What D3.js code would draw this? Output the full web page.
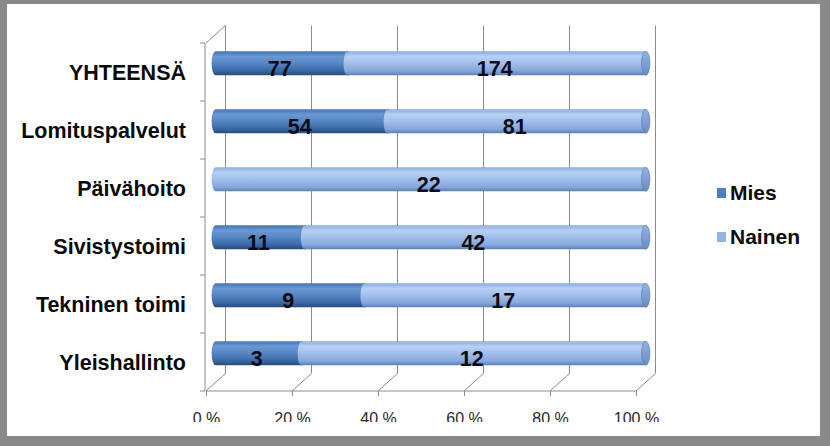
<!DOCTYPE html>
<html><head><meta charset="utf-8">
<script src="https://cdn.jsdelivr.net/npm/d3@7/dist/d3.min.js"></script>
<style>body{margin:0;padding:0;background:#fff}svg{display:block}</style>
</head><body>
<svg id="c" width="830" height="446"></svg>
<script>
const categories = ["YHTEENSÄ","Lomituspalvelut","Päivähoito","Sivistystoimi","Tekninen toimi","Yleishallinto"];
const mies   = [77, 54, 0, 11, 9, 3];
const nainen = [174, 81, 22, 42, 17, 12];
const seriesNames = ["Mies","Nainen"];
const xTicks = [0, 0.2, 0.4, 0.6, 0.8, 1];

const svg = d3.select("#c");
const font = "'Liberation Sans', Arial, sans-serif";

// frame
svg.append("rect").attr("width",830).attr("height",446).attr("fill","#8a8a8a");
svg.append("rect").attr("x",7).attr("y",4).attr("width",813).attr("height",432).attr("fill","#fff");

// geometry
const x = d3.scaleLinear().domain([0,1]).range([206,636]);
const y = d3.scaleBand().domain(categories).range([43,391]);
const dx = 19.5, dy = -17.5;
const floorY = y.range()[1];
const topY = y.range()[0];
const grid = "#8c8c8c";

const defs = svg.append("defs");
function grad(id, stops){
  const g = defs.append("linearGradient").attr("id",id).attr("x1",0).attr("y1",0).attr("x2",0).attr("y2",1);
  stops.forEach(s=>g.append("stop").attr("offset",s[0]).attr("stop-color",s[1]));
}
grad("gMies",[[0,"#4674b2"],[0.22,"#6a98d3"],[0.5,"#5686c5"],[0.82,"#3b68a4"],[1,"#264a7a"]]);
grad("gNainen",[[0,"#8cacde"],[0.22,"#b6d0f4"],[0.5,"#a2bfec"],[0.82,"#85a7db"],[1,"#5d80b6"]]);
grad("gCapM",[[0,"#5a86c2"],[1,"#34598c"]]);
grad("gCapN",[[0,"#95b3e2"],[1,"#6a8cc2"]]);
defs.append("clipPath").attr("id","tickClip").append("rect").attr("x",-80).attr("y",-10).attr("width",160).attr("height",41);

const g = svg.append("g");

// back wall gridlines
g.selectAll("line.back").data(xTicks).join("line")
  .attr("x1",d=>x(d)+dx).attr("x2",d=>x(d)+dx)
  .attr("y1",topY+dy).attr("y2",floorY+dy)
  .attr("stroke",grid).attr("stroke-width",1);
// floor diagonals
g.selectAll("line.floor").data(xTicks).join("line")
  .attr("x1",d=>x(d)).attr("x2",d=>x(d)+dx)
  .attr("y1",floorY).attr("y2",floorY+dy)
  .attr("stroke",grid).attr("stroke-width",1);
// left wall edge
g.append("line").attr("x1",x(0)).attr("x2",x(0)+dx).attr("y1",topY).attr("y2",topY+dy).attr("stroke",grid);
g.append("line").attr("x1",x(0)-1).attr("x2",x(0)-1).attr("y1",topY).attr("y2",floorY).attr("stroke",grid);
// category boundary ticks
const bounds = categories.map(c=>y(c)).concat([floorY]);
g.selectAll("line.yt").data(bounds).join("line")
  .attr("x1",x(0)-6).attr("x2",x(0)-1).attr("y1",d=>d).attr("y2",d=>d).attr("stroke",grid);

// bottom axis
const xAxis = d3.axisBottom(x).tickValues(xTicks).tickSize(5).tickPadding(14)
  .tickFormat(d=>Math.round(d*100)+" %");
const ax = svg.append("g").attr("transform",`translate(0,${floorY})`).call(xAxis);
ax.select(".domain").attr("stroke",grid).attr("d",`M${x(0)},0H${x(1)}`);
ax.selectAll(".tick line").attr("stroke",grid);
ax.selectAll(".tick text").attr("font-family",font).attr("font-size","16px").attr("fill","#2a2a2a")
  .attr("dy",null).attr("y",33).attr("clip-path","url(#tickClip)");

// category labels
const yAxis = d3.axisLeft(y).tickSize(0).tickPadding(0);
const ay = svg.append("g").attr("transform","translate(186,0)").call(yAxis);
ay.select(".domain").remove();
ay.selectAll(".tick text").attr("font-family",font).attr("font-size","21.5px").attr("font-weight","bold")
  .attr("fill","#0a0a0a").attr("dy",null).attr("y",8).attr("x",0);

// bars
const rows = categories.map((c,i)=>({c, m:mies[i], n:nainen[i], t:mies[i]+nainen[i]}));
const barH = 24, rx = 4.2;
const bx = v => x(v)+dx/2;
function segPath(x0,x1,cy){
  const t=cy-barH/2, b=cy+barH/2;
  return `M${x0},${t}L${x1},${t}L${x1},${b}L${x0},${b}A${rx},${barH/2} 0 0 1 ${x0},${t}Z`;
}
const bars = svg.append("g");
rows.forEach(r=>{
  const cy = y(r.c)+y.bandwidth()/2 + dy/2;
  const segs = [{v0:0,v1:r.m/r.t,fill:"url(#gMies)",cap:"url(#gCapM)",val:r.m},
                {v0:r.m/r.t,v1:1,fill:"url(#gNainen)",cap:"url(#gCapN)",val:r.n}];
  segs.forEach(s=>{
    if(s.val<=0) return;
    const x0=bx(s.v0), x1=bx(s.v1);
    bars.append("path").attr("d",segPath(x0,x1,cy)).attr("fill",s.fill);
    bars.append("ellipse").attr("cx",x1).attr("cy",cy).attr("rx",rx).attr("ry",barH/2)
      .attr("fill",s.cap).attr("stroke","#5577a8").attr("stroke-width",0.6);
  });
  segs.forEach(s=>{
    if(s.val<=0) return;
    bars.append("text").attr("x",(bx(s.v0)+bx(s.v1))/2 - 2).attr("y",y(r.c)+y.bandwidth()/2+4)
      .attr("text-anchor","middle").attr("font-family",font).attr("font-size","21.5px")
      .attr("font-weight","bold").attr("fill","#0c0c18").text(s.val);
  });
});

// legend
const leg = svg.append("g");
const legColors = ["#4f7fbc","#93b4e2"];
seriesNames.forEach((s,i)=>{
  const ly = 200 + i*44;
  leg.append("rect").attr("x",717).attr("y",ly-12).attr("width",9).attr("height",10).attr("fill",legColors[i]);
  leg.append("text").attr("x",730).attr("y",ly).attr("font-family",font).attr("font-size","21px")
    .attr("font-weight","bold").attr("fill","#0a0a0a").text(s);
});
</script>
</body></html>
